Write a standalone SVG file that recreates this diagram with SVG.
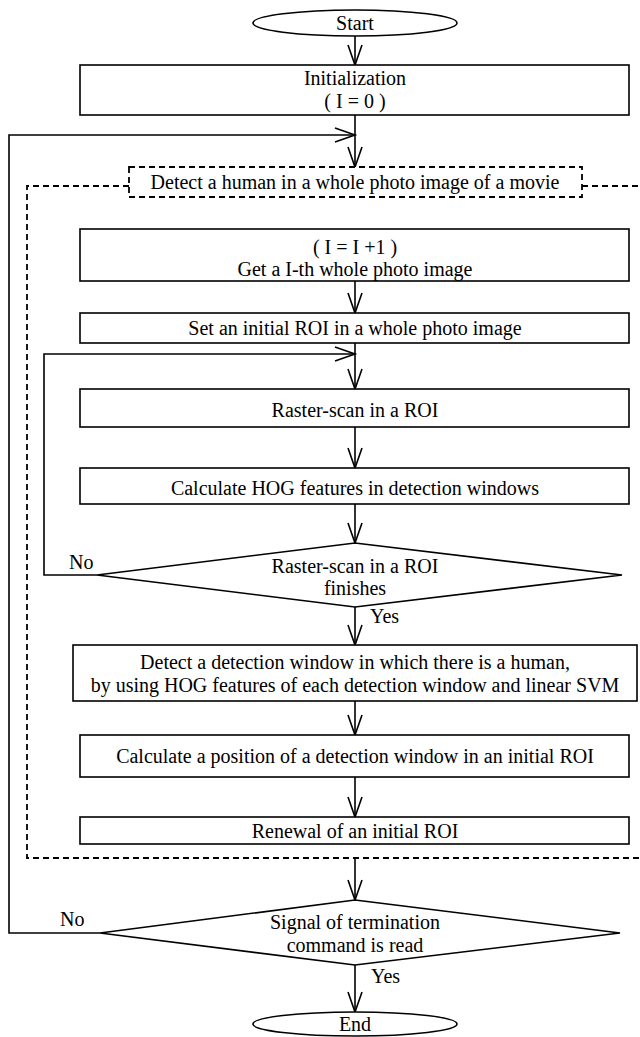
<svg xmlns="http://www.w3.org/2000/svg" width="640" height="1037" viewBox="0 0 640 1037">
<style>
text{font-family:"Liberation Serif","Times New Roman",serif;font-size:20px;fill:#000;text-anchor:middle}
.lbl{text-anchor:start}
.box{fill:#fff;stroke:#000;stroke-width:1.6}
.dash{fill:#fff;stroke:#000;stroke-width:1.8;stroke-dasharray:6,4}
.dline{fill:none;stroke:#000;stroke-width:1.8;stroke-dasharray:6,4}
.c{fill:none;stroke:#000;stroke-width:1.6}
</style>
<defs>
<marker id="ah" markerUnits="userSpaceOnUse" markerWidth="24" markerHeight="18" refX="21" refY="8" orient="auto">
<path d="M1,1 L21,8 L1,15" fill="none" stroke="#000" stroke-width="1.6"/>
</marker>
</defs>
<g id="region">
<path class="dline" d="M129,186 L27,186 L27,858 L640,858"/>
<path class="dline" d="M582,186 L640,186"/>
</g>
<g id="connectors">
<line class="c" x1="355" y1="36" x2="355" y2="65" marker-end="url(#ah)"/>
<line class="c" x1="355" y1="115" x2="355" y2="167" marker-end="url(#ah)"/>
<polyline class="c" points="100,933 9,933 9,135 355,135" marker-end="url(#ah)"/>
<line class="c" x1="355" y1="281" x2="355" y2="313" marker-end="url(#ah)"/>
<line class="c" x1="355" y1="343" x2="355" y2="389" marker-end="url(#ah)"/>
<polyline class="c" points="97,575 44,575 44,354 355,354" marker-end="url(#ah)"/>
<line class="c" x1="355" y1="427" x2="355" y2="468" marker-end="url(#ah)"/>
<line class="c" x1="355" y1="504" x2="355" y2="543" marker-end="url(#ah)"/>
<line class="c" x1="355" y1="607" x2="355" y2="645" marker-end="url(#ah)"/>
<line class="c" x1="355" y1="701" x2="355" y2="735" marker-end="url(#ah)"/>
<line class="c" x1="355" y1="777" x2="355" y2="817" marker-end="url(#ah)"/>
<line class="c" x1="355" y1="858" x2="355" y2="900" marker-end="url(#ah)"/>
<line class="c" x1="355" y1="965" x2="355" y2="1012" marker-end="url(#ah)"/>
<text class="lbl" x="69" y="569">No</text>
<text class="lbl" x="370" y="623">Yes</text>
<text class="lbl" x="60" y="926">No</text>
<text class="lbl" x="371" y="983">Yes</text>
</g>
<g id="start">
<ellipse class="box" cx="355" cy="23" rx="102" ry="13"/>
<text x="355" y="30">Start</text>
</g>
<g id="init">
<rect class="box" x="80" y="65" width="549" height="50"/>
<text x="355" y="85">Initialization</text>
<text x="355" y="108">( I = 0 )</text>
</g>
<g id="detect-label">
<rect class="dash" x="129" y="167" width="453" height="30"/>
<text x="355" y="189">Detect a human in a whole photo image of a movie</text>
</g>
<g id="get-image">
<rect class="box" x="80" y="229" width="549" height="52"/>
<text x="355" y="254">( I = I +1 )</text>
<text x="355" y="276">Get a I-th whole photo image</text>
</g>
<g id="set-roi">
<rect class="box" x="80" y="313" width="549" height="30"/>
<text x="355" y="335">Set an initial ROI in a whole photo image</text>
</g>
<g id="raster">
<rect class="box" x="80" y="389" width="549" height="38"/>
<text x="355" y="417">Raster-scan in a ROI</text>
</g>
<g id="hog">
<rect class="box" x="80" y="468" width="549" height="36"/>
<text x="355" y="495">Calculate HOG features in detection windows</text>
</g>
<g id="scan-done">
<polygon class="box" points="355,543 622,575 355,607 97,575"/>
<text x="355" y="573">Raster-scan in a ROI</text>
<text x="355" y="595">finishes</text>
</g>
<g id="svm">
<rect class="box" x="73" y="645" width="564" height="56"/>
<text x="355" y="669">Detect a detection window in which there is a human,</text>
<text x="355" y="692">by using HOG features of each detection window and linear SVM</text>
</g>
<g id="position">
<rect class="box" x="80" y="735" width="549" height="42"/>
<text x="355" y="763">Calculate a position of a detection window in an initial ROI</text>
</g>
<g id="renewal">
<rect class="box" x="80" y="817" width="549" height="27"/>
<text x="355" y="838">Renewal of an initial ROI</text>
</g>
<g id="terminate">
<polygon class="box" points="355,900 620,933 355,965 100,933"/>
<text x="355" y="929">Signal of termination</text>
<text x="355" y="952">command is read</text>
</g>
<g id="end">
<ellipse class="box" cx="355" cy="1024" rx="102" ry="12"/>
<text x="355" y="1031">End</text>
</g>
</svg>
